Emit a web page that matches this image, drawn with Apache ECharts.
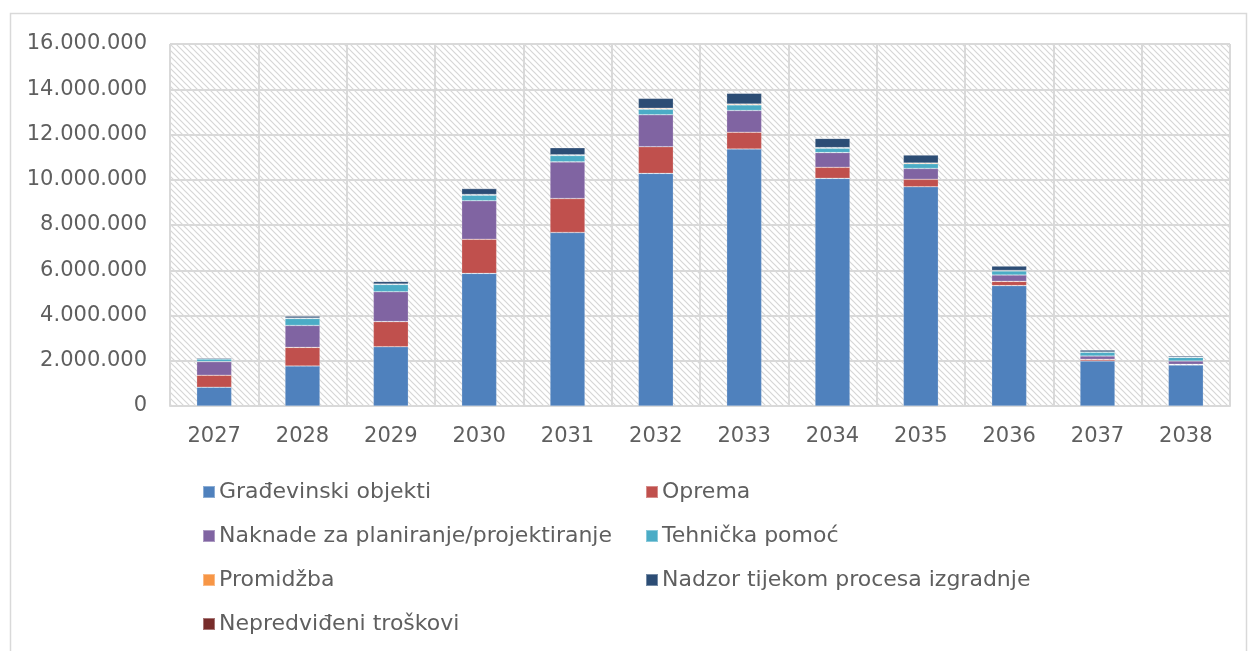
<!DOCTYPE html>
<html>
<head>
<meta charset="utf-8">
<script src="https://cdn.jsdelivr.net/npm/echarts@6/dist/echarts.min.js"></script>
<style>
  html, body { margin: 0; padding: 0; background: #fff; }
  #chart { width: 1249px; height: 651px; }
</style>
</head>
<body>
<div id="chart"></div>
<script>
// Years on the x axis
const years = ['2027','2028','2029','2030','2031','2032','2033','2034','2035','2036','2037','2038'];

// Cost components per year (EUR)
const gradevinskiObjekti = [830000, 1770000, 2620000, 5860000, 7670000, 10280000, 11360000, 10060000, 9690000, 5320000, 1990000, 1810000];
const oprema             = [530000, 820000, 1110000, 1510000, 1500000, 1180000, 740000, 490000, 330000, 190000, 70000, 30000];
const naknade            = [600000, 970000, 1320000, 1700000, 1620000, 1410000, 960000, 650000, 480000, 280000, 150000, 150000];
const tehnickaPomoc      = [120000, 310000, 320000, 250000, 280000, 250000, 250000, 190000, 210000, 180000, 170000, 160000];
const promidzba          = [10000, 15000, 20000, 30000, 30000, 40000, 40000, 30000, 30000, 20000, 10000, 10000];
const nadzor             = [40000, 90000, 120000, 260000, 320000, 440000, 480000, 410000, 360000, 200000, 90000, 60000];
const nepredvideni       = [0, 0, 0, 0, 0, 0, 0, 0, 0, 0, 0, 0];

// Y axis range
const yMin = 0, yMax = 16000000, yStep = 2000000;

const seriesDefs = [
  { name: 'Građevinski objekti', data: gradevinskiObjekti, color: '#4f81bd' },
  { name: 'Oprema', data: oprema, color: '#c0504d' },
  { name: 'Naknade za planiranje/projektiranje', data: naknade, color: '#8064a2' },
  { name: 'Tehnička pomoć', data: tehnickaPomoc, color: '#4bacc6' },
  { name: 'Promidžba', data: promidzba, color: '#f79646' },
  { name: 'Nadzor tijekom procesa izgradnje', data: nadzor, color: '#2c4d75' },
  { name: 'Nepredviđeni troškovi', data: nepredvideni, color: '#772c2a' }
];

// Diagonal hatch tile for the plot background
function hatchTile() {
  const c = document.createElement('canvas');
  c.width = 6; c.height = 6;
  const g = c.getContext('2d');
  g.fillStyle = '#ffffff';
  g.fillRect(0, 0, 6, 6);
  g.strokeStyle = '#d6d6d6';
  g.lineWidth = 1.2;
  g.beginPath();
  g.moveTo(-1, -1); g.lineTo(7, 7);
  g.moveTo(-4, 2); g.lineTo(4, 10);
  g.moveTo(2, -4); g.lineTo(10, 4);
  g.stroke();
  return c;
}

const fontFamily = '"DejaVu Sans", sans-serif';

function fmt(v) {
  return String(v).replace(/\B(?=(\d{3})+(?!\d))/g, '.');
}

const chart = echarts.init(document.getElementById('chart'), null, { renderer: 'canvas' });

const legendText = { fontFamily, fontSize: 22, color: '#5f5f5f', padding: [0, 0, 0, -1] };

chart.setOption({
  backgroundColor: '#ffffff',
  animation: false,
  graphic: [{
    type: 'rect',
    shape: { x: 10.5, y: 13.5, width: 1236, height: 660 },
    style: { fill: 'none', stroke: '#d9d9d9', lineWidth: 1.5 },
    z: -1
  }],
  grid: {
    left: 170, right: 19, top: 44, bottom: 245,
    show: true,
    backgroundColor: { image: hatchTile(), repeat: 'repeat' },
    borderWidth: 0
  },
  legend: [
    {
      orient: 'vertical', left: 197, top: 476, itemGap: 22,
      itemWidth: 12, itemHeight: 12, icon: 'rect',
      textStyle: legendText,
      data: ['Građevinski objekti', 'Naknade za planiranje/projektiranje', 'Promidžba', 'Nepredviđeni troškovi']
    },
    {
      orient: 'vertical', left: 640, top: 476, itemGap: 22,
      itemWidth: 12, itemHeight: 12, icon: 'rect',
      textStyle: legendText,
      data: ['Oprema', 'Tehnička pomoć', 'Nadzor tijekom procesa izgradnje']
    }
  ],
  xAxis: {
    type: 'category',
    data: years,
    axisLine: { show: true, lineStyle: { color: '#d9d9d9', width: 2 } },
    axisTick: { show: false },
    axisLabel: { fontFamily, fontSize: 21, color: '#5f5f5f', margin: 20 },
    splitLine: { show: true, lineStyle: { color: '#d9d9d9', width: 2 } }
  },
  yAxis: {
    type: 'value',
    min: yMin, max: yMax, interval: yStep,
    axisLine: { show: false },
    axisTick: { show: false },
    axisLabel: { fontFamily, fontSize: 21, color: '#5f5f5f', margin: 23, formatter: fmt },
    splitLine: { show: true, lineStyle: { color: '#d9d9d9', width: 2 } }
  },
  series: seriesDefs.map(s => ({
    name: s.name,
    type: 'bar',
    stack: 'total',
    barWidth: 35,
    data: s.data,
    itemStyle: { color: s.color, borderColor: 'rgba(255,255,255,0.35)', borderWidth: 0.6 }
  }))
});
</script>
</body>
</html>
